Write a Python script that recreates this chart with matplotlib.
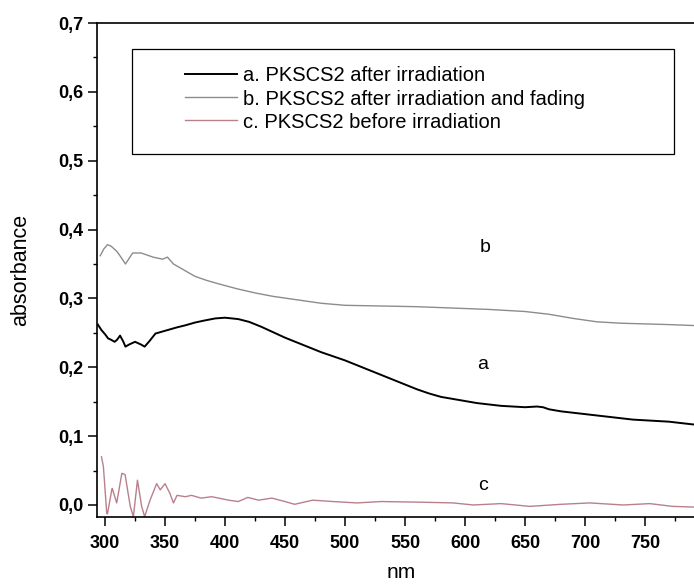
import matplotlib
matplotlib.use('Agg')
import matplotlib.pyplot as plt
from matplotlib.ticker import MultipleLocator, FuncFormatter
from matplotlib.patches import Rectangle

plt.rcParams['font.family'] = ['Liberation Sans', 'DejaVu Sans']

# curve a: PKSCS2 after irradiation
a_nm = [294, 297, 300, 302.5, 305, 308, 310, 312.5, 315, 317,
        320, 325, 330, 333, 337, 342, 346, 352, 360, 367,
        375, 383, 392, 400, 411, 420, 430, 440, 450, 460,
        470, 480, 490, 500, 510, 520, 530, 540, 550, 560,
        570, 580, 590, 600, 610, 620, 630, 640, 650, 660,
        665, 670, 680, 690, 700, 710, 720, 730, 740, 750,
        760, 770, 780, 790, 800]
a_abs = [0.262, 0.254, 0.248, 0.242, 0.240, 0.237, 0.240, 0.246, 0.238, 0.230,
         0.233, 0.237, 0.233, 0.230, 0.238, 0.249, 0.251, 0.254, 0.258, 0.261,
         0.265, 0.268, 0.271, 0.272, 0.270, 0.266, 0.259, 0.251, 0.243, 0.236,
         0.229, 0.222, 0.216, 0.210, 0.203, 0.196, 0.189, 0.182, 0.175, 0.168,
         0.162, 0.157, 0.154, 0.151, 0.148, 0.146, 0.144, 0.143, 0.142, 0.143,
         0.142, 0.139, 0.136, 0.134, 0.132, 0.130, 0.128, 0.126, 0.124, 0.123,
         0.122, 0.121, 0.119, 0.117, 0.116]

# curve b: after irradiation and fading
b_nm = [296, 299, 302, 305, 310, 314, 317, 320, 323, 330,
        340, 348, 352, 357, 365, 375, 385, 395, 410, 425,
        440, 460, 480, 500, 530, 560, 590, 620, 650, 670,
        690, 710, 730, 750, 770, 800]
b_abs = [0.362, 0.372, 0.378, 0.376, 0.368, 0.358, 0.350, 0.358, 0.366, 0.366,
         0.360, 0.357, 0.360, 0.350, 0.342, 0.332, 0.326, 0.321, 0.314, 0.308,
         0.303, 0.298, 0.293, 0.290, 0.289, 0.288, 0.286, 0.284, 0.281, 0.277,
         0.271, 0.266, 0.264, 0.263, 0.262, 0.260]

# curve c: before irradiation
c_nm = [297, 298.6, 300, 301.4, 302, 305.6, 306, 309.7, 314, 316.7,
        321, 323.6, 327, 330.5, 333, 337.5, 343, 346, 350, 354,
        357, 360, 367, 372, 380, 389, 403, 411, 419, 428,
        439, 450, 458, 473, 490, 510, 530, 565, 590, 607,
        630, 654, 680, 704, 732, 754, 773, 790, 800]
c_abs = [0.070, 0.056, 0.022, -0.012, -0.013, 0.022, 0.024, 0.003, 0.046, 0.044,
         -0.002, -0.017, 0.036, -0.002, -0.017, 0.007, 0.031, 0.022, 0.031, 0.017,
         0.003, 0.014, 0.012, 0.014, 0.010, 0.012, 0.007, 0.005, 0.011, 0.007,
         0.010, 0.005, 0.001, 0.007, 0.005, 0.003, 0.005, 0.004, 0.003, 0.000,
         0.002, -0.002, 0.001, 0.003, 0.000, 0.002, -0.002, -0.003, -0.003]

legend_labels = ['a. PKSCS2 after irradiation',
                 'b. PKSCS2 after irradiation and fading',
                 'c. PKSCS2 before irradiation']
curve_tags = ['a', 'b', 'c']
tag_pos = [(615, 0.204), (617, 0.374), (615, 0.029)]

fig = plt.figure(figsize=(6.94, 5.87), dpi=100)
# axes runs past the right edge, like the cropped scan
ax = fig.add_axes([0.1398, 0.1193, 0.876, 0.8415])

la, = ax.plot(a_nm, a_abs, color='black', lw=1.4)
lb, = ax.plot(b_nm, b_abs, color='#8c8c8c', lw=1.0)
lc, = ax.plot(c_nm, c_abs, color='#b9808c', lw=1.0)

ax.set_xlim(293.3, 800)
ax.set_ylim(-0.0174, 0.7)

ax.xaxis.set_major_locator(MultipleLocator(50))
ax.xaxis.set_minor_locator(MultipleLocator(25))
ax.yaxis.set_major_locator(MultipleLocator(0.1))
ax.yaxis.set_minor_locator(MultipleLocator(0.05))
ax.yaxis.set_major_formatter(FuncFormatter(lambda v, p: f"{v:.1f}".replace('.', ',')))
ax.set_xticks([300, 350, 400, 450, 500, 550, 600, 650, 700, 750])

ax.tick_params(which='major', direction='out', length=6.5, width=1.1, labelsize=13)
ax.tick_params(axis='x', which='major', pad=6.5)
ax.tick_params(axis='y', which='major', pad=3.5)
ax.tick_params(which='minor', direction='out', length=3, width=1.0)
for lab in ax.get_xticklabels() + ax.get_yticklabels():
    lab.set_fontweight('bold')

for s in ['left', 'bottom', 'top']:
    ax.spines[s].set_linewidth(1.2)
ax.spines['right'].set_visible(False)

ax.set_xlabel('nm', fontsize=15, labelpad=8)
ax.set_ylabel('absorbance', fontsize=15.5, labelpad=19)

for t, (x, y) in zip(curve_tags, tag_pos):
    ax.text(x, y, t, fontsize=14, ha='center', va='center')

# legend frame drawn separately so the entries can sit on the right of it
ax.add_patch(Rectangle((0.0576, 0.735), 0.8914, 0.212, transform=ax.transAxes,
                       fill=False, edgecolor='black', lw=0.9))
ax.legend([la, lb, lc], legend_labels, loc='upper left',
          bbox_to_anchor=(0.1447, 0.912), frameon=False, fontsize=14.5,
          handlelength=2.6, handletextpad=0.3, labelspacing=0.2,
          borderpad=0, borderaxespad=0)

fig.savefig('out.png', dpi=100)
